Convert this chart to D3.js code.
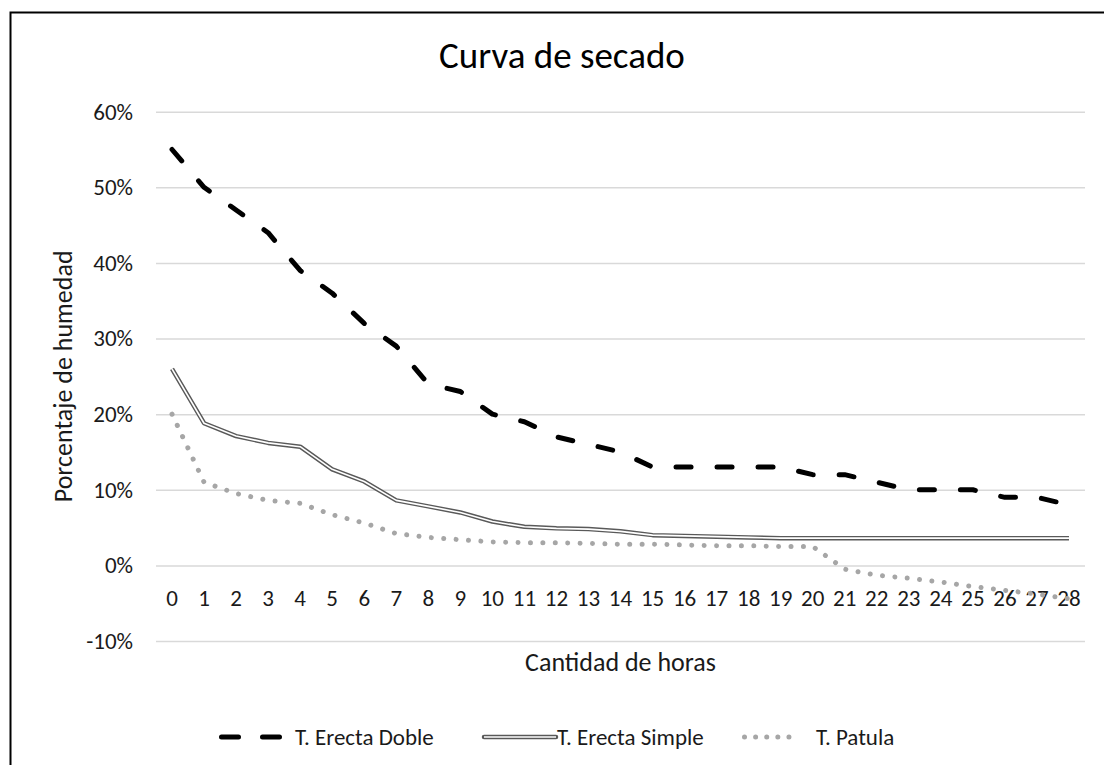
<!DOCTYPE html>
<html>
<head>
<meta charset="utf-8">
<script src="https://d3js.org/d3.v7.min.js"></script>
<style>
  body { margin: 0; background: #fff; }
  svg text { font-family: Carlito, Lato, sans-serif; fill: #1a1a1a; }
</style>
</head>
<body>
<div id="chart"></div>
<script>
// hours on the x axis
var horas = d3.range(0, 29).map(String);

// humidity, fraction
var erectaDoble = [0.55, 0.50, 0.47, 0.44, 0.39, 0.36, 0.32, 0.29, 0.24, 0.23,
  0.20, 0.19, 0.17, 0.16, 0.15, 0.13, 0.13, 0.13, 0.13, 0.13,
  0.12, 0.12, 0.11, 0.10, 0.10, 0.10, 0.09, 0.09, 0.08];
var erectaSimple = [0.26, 0.188, 0.171, 0.162, 0.157, 0.127, 0.111, 0.086, 0.078, 0.070,
  0.058, 0.051, 0.049, 0.048, 0.045, 0.040, 0.039, 0.038, 0.037, 0.036,
  0.036, 0.036, 0.036, 0.036, 0.036, 0.036, 0.036, 0.036, 0.036];
var patula = [0.20, 0.11, 0.095, 0.086, 0.082, 0.067, 0.056, 0.042, 0.037, 0.034,
  0.031, 0.030, 0.030, 0.029, 0.028, 0.028, 0.027, 0.026, 0.026, 0.025,
  0.025, -0.005, -0.013, -0.017, -0.022, -0.028, -0.033, -0.038, -0.044];

var yTicks = [-0.1, 0, 0.1, 0.2, 0.3, 0.4, 0.5, 0.6];
var seriesNames = ['T. Erecta Doble', 'T. Erecta Simple', 'T. Patula'];

var W = 1104, H = 765;
var plot = { left: 156, right: 1085, top: 111.7, bottom: 641 };

var svg = d3.select('#chart').append('svg')
  .attr('width', W)
  .attr('height', H);

// outer frame (only top and left edges show)
svg.append('path')
  .attr('d', 'M10.5,' + H + 'V12.5H' + W)
  .attr('fill', 'none')
  .attr('stroke', '#000')
  .attr('stroke-width', 2);

var x = d3.scaleBand()
  .domain(horas)
  .range([plot.left, plot.right]);

var y = d3.scaleLinear()
  .domain([-0.1, 0.6])
  .range([plot.bottom, plot.top]);

// gridlines + y labels
var yAxis = d3.axisLeft(y)
  .tickValues(yTicks)
  .tickSize(-(plot.right - plot.left))
  .tickPadding(23)
  .tickFormat(function(d) { return Math.round(d * 100) + '%'; });

var gy = svg.append('g')
  .attr('transform', 'translate(' + plot.left + ',0)')
  .call(yAxis);
gy.select('.domain').remove();
gy.selectAll('.tick line').attr('stroke', '#d9d9d9').attr('stroke-width', 1.5);
gy.selectAll('.tick text').style('font-size', '23px').attr('fill', '#1a1a1a');

// x labels sit under the 0% line
var xAxis = d3.axisBottom(x).tickSize(0).tickPadding(0);
var gx = svg.append('g')
  .attr('transform', 'translate(0,' + (y(0) + 24) + ')')
  .call(xAxis);
gx.select('.domain').remove();
gx.selectAll('.tick text').style('font-size', '23px').attr('fill', '#1a1a1a');

var line = d3.line()
  .x(function(d, i) { return x(horas[i]) + x.bandwidth() / 2; })
  .y(function(d) { return y(d); });

var g = svg.append('g');

// T. Patula - round dots
g.append('path')
  .attr('d', line(patula))
  .attr('fill', 'none')
  .attr('stroke', '#a6a6a6')
  .attr('stroke-width', 5)
  .attr('stroke-linecap', 'round')
  .attr('stroke-dasharray', '0.01,12.4');

// T. Erecta Simple - double line
g.append('path')
  .attr('d', line(erectaSimple))
  .attr('fill', 'none')
  .attr('stroke', '#595959')
  .attr('stroke-width', 4.5)
  .attr('stroke-linejoin', 'round');
g.append('path')
  .attr('d', line(erectaSimple))
  .attr('fill', 'none')
  .attr('stroke', '#fff')
  .attr('stroke-width', 1.6)
  .attr('stroke-linejoin', 'round');

// T. Erecta Doble - long dash
g.append('path')
  .attr('d', line(erectaDoble))
  .attr('fill', 'none')
  .attr('stroke', '#000')
  .attr('stroke-width', 5)
  .attr('stroke-linecap', 'round')
  .attr('stroke-linejoin', 'round')
  .attr('stroke-dasharray', '15,26');

// titles
svg.append('text')
  .attr('x', 562)
  .attr('y', 68)
  .attr('text-anchor', 'middle')
  .style('font-size', '37px')
  .style('fill', '#000')
  .text('Curva de secado');

svg.append('text')
  .attr('transform', 'translate(72,' + ((plot.top + plot.bottom) / 2) + ') rotate(-90)')
  .attr('text-anchor', 'middle')
  .style('font-size', '26px')
  .text('Porcentaje de humedad');

svg.append('text')
  .attr('x', (plot.left + plot.right) / 2)
  .attr('y', 671)
  .attr('text-anchor', 'middle')
  .style('font-size', '26px')
  .text('Cantidad de horas');

// legend
var legY = 737;
var legItems = [
  { x0: 221.5, x1: 283.5, tx: 295 },
  { x0: 484, x1: 556, tx: 557 },
  { x0: 744.5, x1: 800, tx: 816 }
];

var leg = svg.append('g');
legItems.forEach(function(it, i) {
  var seg = 'M' + it.x0 + ',' + legY + 'H' + it.x1;
  if (i === 0) {
    leg.append('path').attr('d', seg)
      .attr('stroke', '#000').attr('stroke-width', 5)
      .attr('stroke-linecap', 'round').attr('stroke-dasharray', '17,24');
  } else if (i === 1) {
    leg.append('path').attr('d', seg)
      .attr('stroke', '#595959').attr('stroke-width', 4.5)
      .attr('stroke-linecap', 'round');
    leg.append('path').attr('d', seg)
      .attr('stroke', '#fff').attr('stroke-width', 1.6);
  } else {
    leg.append('path').attr('d', seg)
      .attr('stroke', '#a6a6a6').attr('stroke-width', 5)
      .attr('stroke-linecap', 'round').attr('stroke-dasharray', '0.01,11.1');
  }
  leg.append('text')
    .attr('x', it.tx)
    .attr('y', legY)
    .attr('dy', '0.35em')
    .style('font-size', '23px')
    .text(seriesNames[i]);
});
</script>
</body>
</html>
